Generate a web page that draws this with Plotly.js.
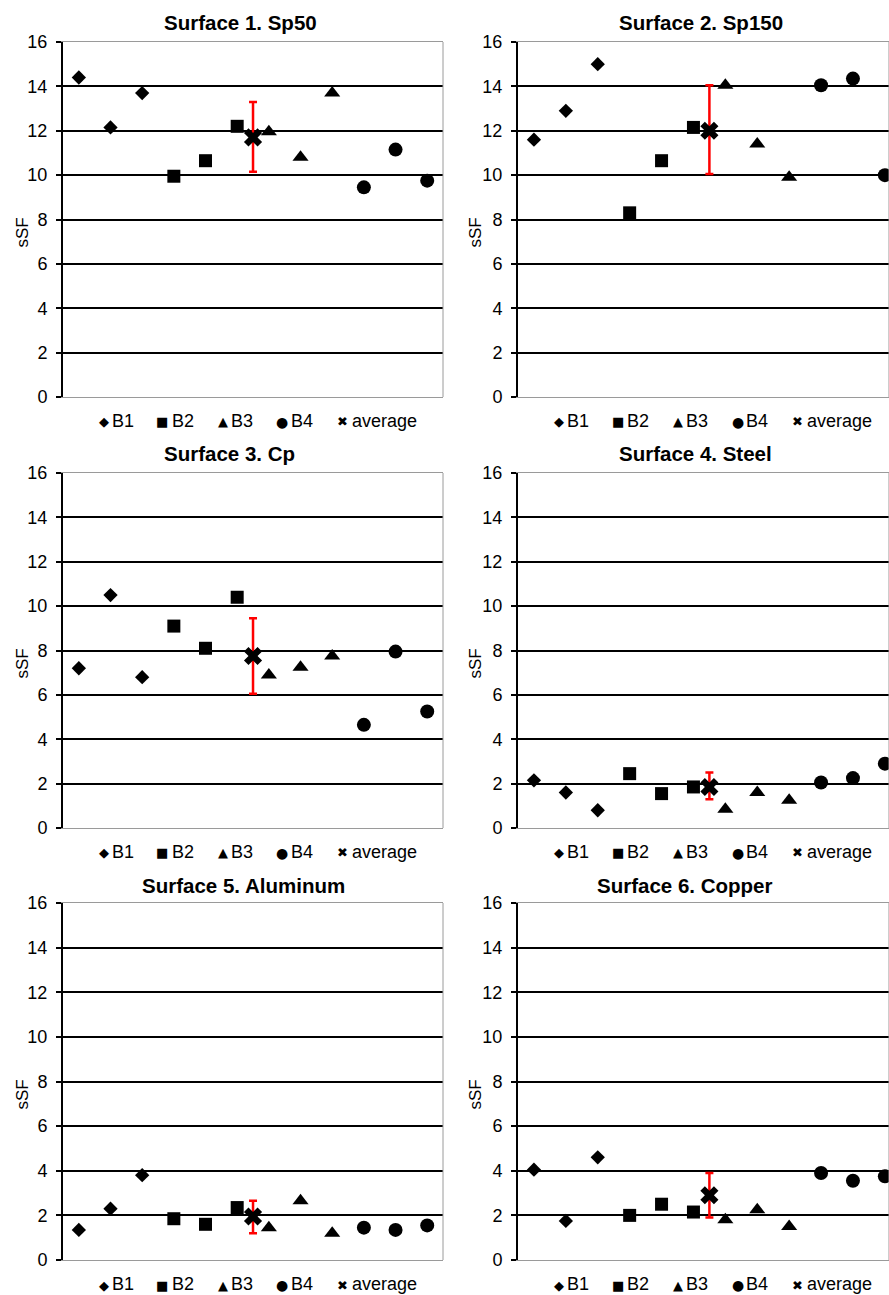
<!DOCTYPE html>
<html>
<head>
<meta charset="utf-8">
<script src="https://cdn.plot.ly/plotly-3.0.1.min.js"></script>
<style>html,body{margin:0;padding:0;background:#fff;}#chart{width:889px;height:1295px;}</style>
</head>
<body>
<div id="chart"></div>
<script>
// ---------- data ----------
const panelTitles = ["Surface 1. Sp50", "Surface 2. Sp150", "Surface 3. Cp", "Surface 4. Steel", "Surface 5. Aluminum", "Surface 6. Copper"];
const seriesNames = ["B1", "B2", "B3", "B4", "average"];
const yTickVals = [0, 2, 4, 6, 8, 10, 12, 14, 16];
const yTitle = "sSF";

const B1 = [[14.4, 12.15, 13.7], [11.6, 12.9, 15.0], [7.2, 10.5, 6.8], [2.15, 1.6, 0.8], [1.35, 2.3, 3.8], [4.05, 1.75, 4.6]];
const B2 = [[9.95, 10.65, 12.2], [8.3, 10.65, 12.15], [9.1, 8.1, 10.4], [2.45, 1.55, 1.85], [1.85, 1.6, 2.35], [2.0, 2.5, 2.15]];
const B3 = [[11.95, 10.8, 13.7], [14.05, 11.4, 9.9], [6.9, 7.25, 7.75], [0.85, 1.6, 1.25], [1.45, 2.65, 1.2], [1.8, 2.25, 1.5]];
const B4 = [[9.45, 11.15, 9.75], [14.05, 14.35, 10.0], [4.65, 7.95, 5.25], [2.05, 2.25, 2.9], [1.45, 1.35, 1.55], [3.9, 3.55, 3.75]];
const average = [11.7, 12.0, 7.75, 1.85, 1.95, 2.9];
const errPlus = [1.6, 2.05, 1.7, 0.65, 0.7, 1.0];
const errMinus = [1.55, 1.95, 1.7, 0.55, 0.75, 1.0];

// ---------- styling / geometry ----------
const W = 889, H = 1295;
const FONT = "Liberation Sans, Arial, sans-serif";
const symbols = ["diamond", "square", "triangle-up", "circle", "x"];
const sizes = [11, 13, 14, 14, 16];
const legendGlyph = ["◆", "■", "▲", "●", "✖"];
const glyphSize = [13, 13, 13, 14, 13];
const colsPx = [[63, 443], [518, 889]];
const rowsPx = [[42, 397], [473, 828], [903, 1260]];
const colSpacing = [31.67, 31.9];
const titleCenters = [[241, 22], [701, 22], [229, 453], [695, 453], [243, 885], [684, 885]];
const legGlyphX = [[104, 162, 223, 282, 342], [559, 618, 678, 738, 797]];
const legTextX = [[110, 170, 229, 289, 350], [565, 625, 684, 744, 805]];
const yTitleX = [22, 475];

const groups = [B1, B2, B3, B4];
const traces = [];
const layout = {
  width: W, height: H,
  margin: {l: 0, r: 0, t: 0, b: 0},
  paper_bgcolor: "#fff", plot_bgcolor: "#fff",
  showlegend: false,
  font: {family: FONT, color: "#000"},
  annotations: [], shapes: []
};

for (let p = 0; p < 6; p++) {
  const col = p % 2, row = Math.floor(p / 2);
  const sfx = p === 0 ? "" : String(p + 1);
  const xa = "x" + sfx, ya = "y" + sfx;
  const [x0, x1] = colsPx[col];
  const [y0, y1] = rowsPx[row];
  const span = (x1 - x0) / colSpacing[col];

  groups.forEach((g, gi) => {
    traces.push({
      type: "scatter", mode: "markers", name: seriesNames[gi],
      x: g[p].map((v, i) => gi * 3 + i + 1), y: g[p],
      xaxis: xa, yaxis: ya, cliponaxis: false,
      marker: {symbol: symbols[gi], size: sizes[gi], color: "#000"},
      hoverinfo: "y+name"
    });
  });
  traces.push({
    type: "scatter", mode: "markers", name: seriesNames[4],
    x: [6.5], y: [average[p]], xaxis: xa, yaxis: ya, cliponaxis: false,
    marker: {symbol: symbols[4], size: sizes[4], color: "#000"},
    error_y: {type: "data", symmetric: false, array: [errPlus[p]], arrayminus: [errMinus[p]],
              color: "#ff0000", thickness: 2.5, width: 4},
    hoverinfo: "y+name"
  });

  layout["xaxis" + sfx] = {
    domain: [x0 / W, x1 / W], range: [0.5, 0.5 + span], anchor: ya,
    showgrid: false, zeroline: false, showticklabels: false, ticks: "",
    showline: true, linecolor: "#9a9a9a", linewidth: 1, mirror: true, fixedrange: true
  };
  layout["yaxis" + sfx] = {
    domain: [1 - y1 / H, 1 - y0 / H], range: [0, 16], anchor: xa,
    tickvals: yTickVals, ticktext: yTickVals.map(String),
    showgrid: true, gridcolor: "#000", gridwidth: 2,
    zeroline: false,
    showline: true, linecolor: "#000", linewidth: 2,
    ticks: "outside", ticklen: 5, tickwidth: 2, tickcolor: "#000",
    ticklabelstandoff: 5,
    tickfont: {family: FONT, size: 18, color: "#000"},
    fixedrange: true
  };
  // right border of plot area (grey)
  layout.shapes.push({type: "line", xref: xa + " domain", yref: ya + " domain",
    x0: 1, x1: 1, y0: 0, y1: 1, line: {color: "#9a9a9a", width: 1}});

  // y-axis title
  layout.annotations.push({
    text: yTitle, xref: "paper", yref: "paper",
    x: yTitleX[col] / W, y: 1 - ((y0 + y1) / 2 + 13) / H,
    xanchor: "center", yanchor: "middle", textangle: -90, showarrow: false,
    font: {family: FONT, size: 17, color: "#000"}
  });

  // panel title
  layout.annotations.push({
    text: "<b>" + panelTitles[p] + "</b>", xref: "paper", yref: "paper",
    x: titleCenters[p][0] / W, y: 1 - titleCenters[p][1] / H,
    xanchor: "center", yanchor: "middle", showarrow: false,
    font: {family: FONT, size: 20.5, color: "#000"}
  });

  // legend row below each panel
  const legY = y1 + 24;
  seriesNames.forEach((nm, si) => {
    layout.annotations.push({
      text: legendGlyph[si], xref: "paper", yref: "paper",
      x: legGlyphX[col][si] / W, y: 1 - (legY + 1) / H, xanchor: "center", yanchor: "middle",
      showarrow: false, font: {family: "DejaVu Sans", size: glyphSize[si], color: "#000"}
    });
    layout.annotations.push({
      text: nm, xref: "paper", yref: "paper",
      x: legTextX[col][si] / W, y: 1 - legY / H, xanchor: "left", yanchor: "middle",
      showarrow: false, font: {family: FONT, size: 18, color: "#000"}
    });
  });
}

Plotly.newPlot("chart", traces, layout, {staticPlot: true, displayModeBar: false});
</script>
</body>
</html>
